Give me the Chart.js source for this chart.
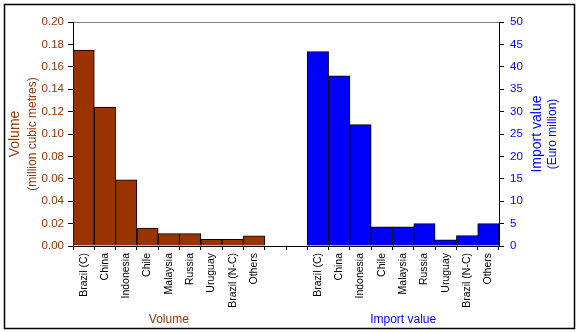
<!DOCTYPE html>
<html>
<head>
<meta charset="utf-8">
<script src="https://cdn.jsdelivr.net/npm/chart.js@4/dist/chart.umd.min.js"></script>
<style>
html,body{margin:0;padding:0;background:#fff;}
#wrap{width:577px;height:332px;position:relative;}
canvas{display:block;}
</style>
</head>
<body>
<div id="wrap"><canvas id="c" width="577" height="332"></canvas></div>
<script>
const categories = ['Brazil (C)','China','Indonesia','Chile','Malaysia','Russia','Uruguay','Brazil (N-C)','Others'];
const volume = [0.175, 0.124, 0.059, 0.016, 0.011, 0.011, 0.006, 0.006, 0.009];
const importValue = [43.4, 38.0, 27.1, 4.3, 4.3, 5.0, 1.4, 2.3, 5.0];
const groupNames = ['Volume', 'Import value'];
const volumeTicks = {min: 0, max: 0.20, step: 0.02};
const importTicks = {min: 0, max: 50, step: 5};

const BROWN = '#993300';
const BLUE = '#0000FF';
const FONT = "'Liberation Sans', Arial, sans-serif";
const GAP = 2;

const labels = [...categories, ...Array(GAP).fill(''), ...categories];
const volData = [...volume, ...Array(GAP + categories.length).fill(null)];
const impData = [...Array(categories.length + GAP).fill(null), ...importValue];
const groupLabels = labels.map(() => '');
groupLabels[Math.floor((categories.length - 1) / 2)] = groupNames[0];
groupLabels[categories.length + GAP + Math.floor((categories.length - 1) / 2)] = groupNames[1];

const extras = {
  id: 'extras',
  afterDraw(chart) {
    const ctx = chart.ctx;
    const a = chart.chartArea;
    const cy = (a.top + a.bottom) / 2;
    function vtext(txt, x, size, color) {
      ctx.save();
      ctx.translate(x, cy);
      ctx.rotate(-Math.PI / 2);
      ctx.font = size + 'px ' + FONT;
      ctx.fillStyle = color;
      ctx.textAlign = 'center';
      ctx.textBaseline = 'middle';
      ctx.fillText(txt, 0, 0);
      ctx.restore();
    }
    vtext('Volume', 15, 14, BROWN);
    vtext('(million cubic metres)', 33, 12, BROWN);
    vtext('Import value', 537, 14, BLUE);
    vtext('(Euro million)', 553, 12, BLUE);
    ctx.save();
    ctx.strokeStyle = '#000';
    ctx.lineWidth = 1.5;
    ctx.strokeRect(4.5, 4.5, 570, 324);
    ctx.restore();
  }
};

new Chart(document.getElementById('c'), {
  type: 'bar',
  data: {
    labels: labels,
    datasets: [
      {label: groupNames[0], data: volData, yAxisID: 'y', backgroundColor: BROWN, borderColor: '#000', borderWidth: 1, grouped: false, barPercentage: 1, categoryPercentage: 1},
      {label: groupNames[1], data: impData, yAxisID: 'y1', backgroundColor: BLUE, borderColor: '#000', borderWidth: 1, grouped: false, barPercentage: 1, categoryPercentage: 1}
    ]
  },
  options: {
    responsive: false,
    animation: false,
    devicePixelRatio: 1,
    layout: {padding: {top: 22, left: 0, right: 0, bottom: 0}},
    plugins: {legend: {display: false}, tooltip: {enabled: false}},
    scales: {
      x: {
        position: 'bottom',
        offset: true,
        grid: {offset: true, drawOnChartArea: false, color: '#000', tickLength: 4, tickColor: '#000'},
        border: {display: true, color: '#000', width: 1},
        ticks: {autoSkip: false, minRotation: 90, maxRotation: 90, color: '#000', padding: 3, font: {family: FONT, size: 10.5}},
        afterFit(s) { s.height = 64; }
      },
      x2: {
        type: 'category',
        position: 'bottom',
        labels: groupLabels,
        offset: true,
        grid: {display: false, drawTicks: false},
        border: {display: false},
        ticks: {autoSkip: false, minRotation: 0, maxRotation: 0, padding: 2,
          color: (c) => c.index < categories.length ? BROWN : BLUE,
          font: {family: FONT, size: 12}},
        afterFit(s) { s.height = 22; }
      },
      y: {
        position: 'left',
        min: volumeTicks.min, max: volumeTicks.max,
        grid: {
          color: (c) => (c.tick && c.tick.value >= volumeTicks.max - 1e-9) ? '#808080' : 'rgba(0,0,0,0)',
          tickColor: '#000', tickLength: 5
        },
        border: {display: true, color: '#000', width: 1},
        ticks: {stepSize: volumeTicks.step, color: BROWN, padding: 4, font: {family: FONT, size: 11.5},
          callback: (v) => Number(v).toFixed(2)},
        afterFit(s) { s.width = 73; }
      },
      y1: {
        position: 'right',
        min: importTicks.min, max: importTicks.max,
        grid: {drawOnChartArea: false, tickColor: '#000', tickLength: 5, color: '#000'},
        border: {display: true, color: '#000', width: 1},
        ticks: {stepSize: importTicks.step, color: BLUE, padding: 6, font: {family: FONT, size: 11.5}},
        afterFit(s) { s.width = 78; }
      }
    }
  },
  plugins: [extras]
});
</script>
</body>
</html>
